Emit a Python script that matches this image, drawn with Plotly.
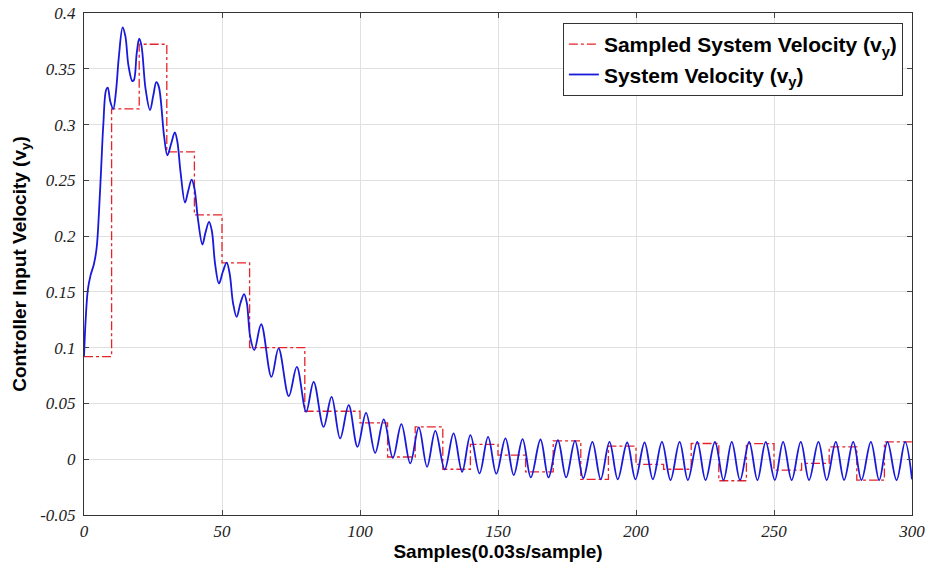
import plotly.graph_objects as go

# Sampled (zero-order hold) velocity, one value per 10-sample interval
sample_edges = [0, 10, 20, 30, 40, 50, 60, 70, 80, 90, 100, 110, 120, 130, 140,
                150, 160, 170, 180, 190, 200, 210, 220, 230, 240, 250, 260, 270, 280, 290, 300]
sampled_vel = [0.092, 0.314, 0.372, 0.2755, 0.219, 0.176, 0.100, 0.100, 0.043, 0.043,
               0.0326, 0.002, 0.029, -0.009, 0.0133, 0.0037, -0.0113, 0.0165, -0.018, 0.0117,
               -0.0047, -0.009, 0.0141, -0.0193, 0.014, -0.0098, -0.0038, 0.0111, -0.0187, 0.0156,
               0.0156]

# Continuous system velocity, read at its turning points (and a few in between)
sys_samples = [0, 0.6, 1.4, 2.4, 3.6, 4.6, 5.4, 6.2, 7.0, 8.0, 8.6, 9.5, 10.6, 11.6, 12.6,
               14.0, 15.0, 16.1, 17.5, 18.1, 19.1, 20.0, 20.8, 22.3, 23.9, 25.1, 26.2, 27.1,
               29.0, 30.2, 31.6, 32.9, 33.8, 35.0, 36.6, 37.7, 39.0, 40.0, 41.3, 42.9, 44.0,
               45.3, 46.3, 47.5, 48.9, 50.3, 51.7, 52.8, 54.0, 55.3, 56.7, 58.0, 59.0, 60.2,
               61.7, 64.2, 67.9, 70.5, 74.2, 77.1, 80.5, 83.2, 86.8, 89.7, 92.8, 95.9, 99.1,
               102.2, 105.5, 108.6, 111.9, 115.0, 118.2, 121.3, 124.3, 127.3, 130.7, 133.9,
               137.0, 140.0, 143.3, 146.4, 149.4, 152.7, 155.7, 158.9, 161.9, 165.4, 168.3,
               171.7, 174.7, 177.9, 180.9, 184.2, 187.2, 190.4, 193.4, 196.8, 199.8, 203.1,
               206.1, 209.4, 212.5, 215.8, 218.8, 222.2, 225.2, 228.6, 231.7, 234.7, 237.7,
               241.0, 244.0, 247.0, 250.3, 253.3, 256.4, 259.7, 262.7, 266.1, 269.1, 272.4,
               275.4, 278.7, 281.7, 285.1, 288.1, 291.1, 294.4, 297.5, 300.0]
sys_vel = [0.092, 0.125, 0.152, 0.165, 0.175, 0.19, 0.22, 0.26, 0.30, 0.331, 0.333, 0.321,
           0.314, 0.330, 0.360, 0.387, 0.379, 0.353, 0.339, 0.340, 0.364, 0.377, 0.371,
           0.332, 0.313, 0.326, 0.338, 0.334, 0.290, 0.2725, 0.283, 0.293, 0.285, 0.257,
           0.230, 0.240, 0.2507, 0.243, 0.215, 0.1925, 0.203, 0.2127, 0.205, 0.175, 0.1575,
           0.168, 0.1763, 0.166, 0.140, 0.1276, 0.140, 0.148, 0.140, 0.110,
           0.0978, 0.121, 0.0738, 0.0993, 0.0565, 0.0828, 0.0425, 0.0694, 0.029, 0.0559,
           0.0186, 0.0485, 0.0111, 0.0416, 0.0057, 0.0357, 0.0013, 0.0315, -0.0038, 0.0285,
           -0.0068, 0.0255, -0.0092, 0.0231, -0.0113, 0.0216, -0.0127, 0.020, -0.013,
           0.0186, -0.0142, 0.018, -0.0163, 0.0177, -0.0163, 0.017, -0.0163, 0.0165,
           -0.017, 0.0156, -0.018, 0.0156, -0.018, 0.015, -0.018, 0.015, -0.018, 0.0156,
           -0.0187, 0.0156, -0.0187, 0.0156, -0.0187, 0.0156, -0.0187, 0.0156, -0.0187,
           0.0156, -0.0187, 0.0156, -0.0187, 0.0156, -0.0187, 0.0156, -0.0187, 0.0156,
           -0.0187, 0.0156, -0.0187, 0.0156, -0.0187, 0.0156, -0.0187, 0.0156, -0.0187,
           0.0156, -0.018]

x_ticks = [0, 50, 100, 150, 200, 250, 300]
y_ticks = [-0.05, 0, 0.05, 0.1, 0.15, 0.2, 0.25, 0.3, 0.35, 0.4]
y_tick_text = ["-0.05", "0", "0.05", "0.1", "0.15", "0.2", "0.25", "0.3", "0.35", "0.4"]

fig = go.Figure()
fig.add_trace(go.Scatter(
    x=sample_edges, y=sampled_vel, mode="lines", line_shape="hv",
    line=dict(color="rgb(230,35,40)", width=1.3, dash="dashdot"),
    name="Sampled System Velocity (v<sub>y</sub>)"))
fig.add_trace(go.Scatter(
    x=sys_samples, y=sys_vel, mode="lines", line_shape="spline",
    line=dict(color="rgb(25,25,220)", width=1.8, smoothing=1.0),
    name="System Velocity (v<sub>y</sub>)"))

tickfont = dict(family="Liberation Serif", size=17, color="#222", style="italic")

fig.update_layout(
    width=925, height=564,
    margin=dict(l=84, r=13, t=13, b=49),
    paper_bgcolor="white", plot_bgcolor="white",
    showlegend=True,
    legend=dict(x=0.989, y=0.98, xanchor="right", yanchor="top",
                bgcolor="white", bordercolor="#333", borderwidth=1,
                font=dict(family="Liberation Sans", size=21, color="black", weight="bold"),
                tracegroupgap=0, itemwidth=30),
    xaxis=dict(range=[0, 300], tickvals=x_ticks, ticks="inside", ticklen=5,
               tickcolor="#444", showgrid=True, gridcolor="rgb(224,224,224)",
               zeroline=False, showline=True, linecolor="#333", linewidth=1,
               mirror="ticks", tickfont=tickfont, automargin=False,
               ticklabelstandoff=1, ticklabeloverflow="allow",
               title=dict(text="Samples(0.03s/sample)",
                          font=dict(family="Liberation Sans", size=19, color="black",
                                    weight="bold"), standoff=0)),
    yaxis=dict(range=[-0.05, 0.4], tickvals=y_ticks, ticktext=y_tick_text,
               ticks="inside", ticklen=5, tickcolor="#444",
               showgrid=True, gridcolor="rgb(224,224,224)", zeroline=False,
               showline=True, linecolor="#333", linewidth=1, mirror="ticks",
               tickfont=tickfont, automargin=False, ticklabelstandoff=4,
               ticklabeloverflow="allow",
               title=dict(text="Controller Input Velocity (v<sub>y</sub>)",
                          font=dict(family="Liberation Sans", size=19, color="black",
                                    weight="bold"), standoff=8)),
)

fig.write_html("out.html")
